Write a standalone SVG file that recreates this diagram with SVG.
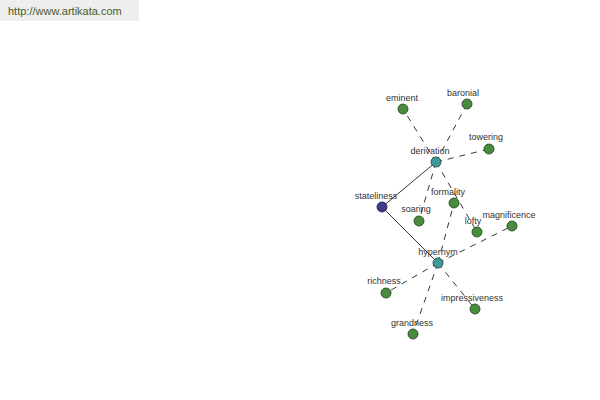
<svg xmlns="http://www.w3.org/2000/svg" width="600" height="400" viewBox="0 0 600 400">
<style>
.bg{fill:#ffffff}
.lbl{font-family:"Liberation Sans",Arial,sans-serif;font-size:9px;fill:#333333;text-anchor:middle}
.url{font-family:"Liberation Sans",Arial,sans-serif;font-size:11px;fill:#4a5a2a}
.solid{stroke:#000000;stroke-width:0.8;fill:none}
.dash{stroke:#000000;stroke-width:0.8;fill:none;stroke-dasharray:6,6}
.g{fill:#4a8c3f;stroke:#1f3a1a;stroke-width:0.8}
.t{fill:#3e9a9a;stroke:#1a3a3a;stroke-width:0.8}
.b{fill:#3c3c8c;stroke:#15153a;stroke-width:0.8}
</style>
<rect class="bg" x="0" y="0" width="600" height="400"/>
<rect x="0" y="0" width="139" height="21" fill="#eeeeee"/>
<text class="url" x="8" y="15">http://www.artikata.com</text>
<g id="connectors">
<line class="solid" x1="436" y1="162" x2="382" y2="207"/>
<line class="solid" x1="382" y1="207" x2="438" y2="263"/>
<line class="dash" x1="436" y1="162" x2="403" y2="109"/>
<line class="dash" x1="436" y1="162" x2="467" y2="104"/>
<line class="dash" x1="436" y1="162" x2="489" y2="149"/>
<line class="dash" x1="436" y1="162" x2="419" y2="221"/>
<line class="dash" x1="436" y1="162" x2="477" y2="232"/>
<line class="dash" x1="438" y1="263" x2="454" y2="203"/>
<line class="dash" x1="438" y1="263" x2="512" y2="226"/>
<line class="dash" x1="438" y1="263" x2="386" y2="293"/>
<line class="dash" x1="438" y1="263" x2="475" y2="309"/>
<line class="dash" x1="438" y1="263" x2="413" y2="334"/>
</g>
<g id="eminent"><circle class="g" cx="403" cy="109" r="5"/><text class="lbl" x="402" y="101">eminent</text></g>
<g id="baronial"><circle class="g" cx="467" cy="104" r="5"/><text class="lbl" x="463" y="96">baronial</text></g>
<g id="towering"><circle class="g" cx="489" cy="149" r="5"/><text class="lbl" x="486" y="140">towering</text></g>
<g id="derivation"><circle class="t" cx="436" cy="162" r="5"/><text class="lbl" x="430" y="154">derivation</text></g>
<g id="stateliness"><circle class="b" cx="382" cy="207" r="5"/><text class="lbl" x="376" y="199">stateliness</text></g>
<g id="formality"><circle class="g" cx="454" cy="203" r="5"/><text class="lbl" x="448" y="195">formality</text></g>
<g id="soaring"><circle class="g" cx="419" cy="221" r="5"/><text class="lbl" x="416" y="212">soaring</text></g>
<g id="lofty"><circle class="g" cx="477" cy="232" r="5"/><text class="lbl" x="473" y="224">lofty</text></g>
<g id="magnificence"><circle class="g" cx="512" cy="226" r="5"/><text class="lbl" x="509" y="218">magnificence</text></g>
<g id="hypernym"><circle class="t" cx="438" cy="263" r="5"/><text class="lbl" x="438" y="255">hypernym</text></g>
<g id="richness"><circle class="g" cx="386" cy="293" r="5"/><text class="lbl" x="384" y="284">richness</text></g>
<g id="impressiveness"><circle class="g" cx="475" cy="309" r="5"/><text class="lbl" x="472" y="301">impressiveness</text></g>
<g id="grandness"><circle class="g" cx="413" cy="334" r="5"/><text class="lbl" x="412" y="326">grandness</text></g>
</svg>
